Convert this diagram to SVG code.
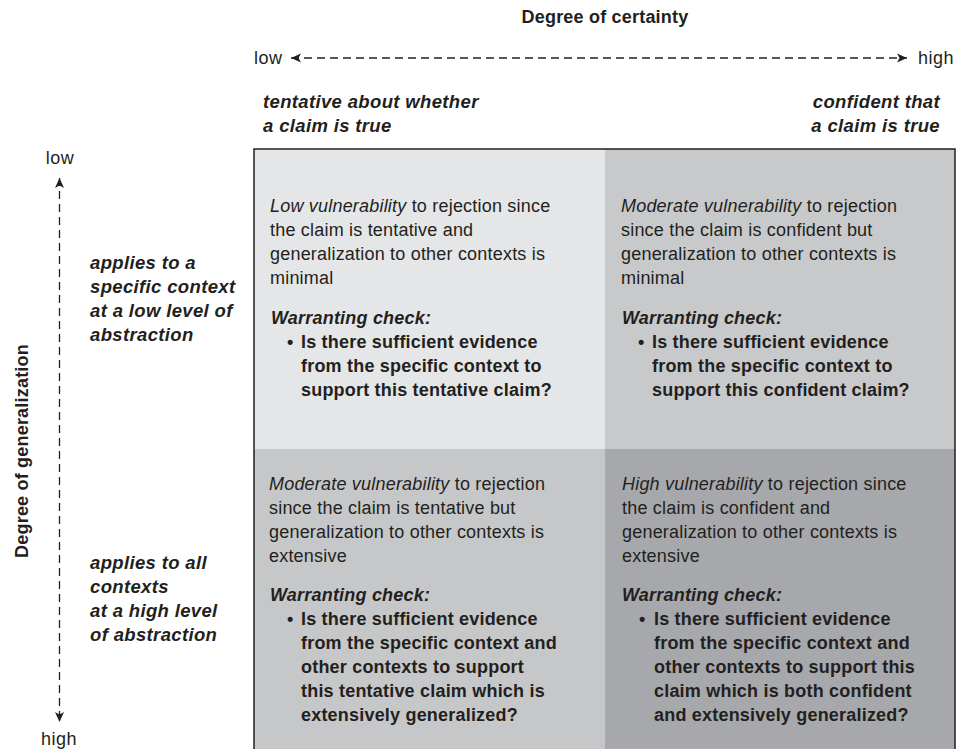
<svg xmlns="http://www.w3.org/2000/svg" width="960" height="749" viewBox="0 0 960 749">
<defs>
<style>
text{font-family:"Liberation Sans",Arial,sans-serif;fill:#231f20}
.body{font-size:18px;letter-spacing:0.2px}
.bi{font-size:18px;font-weight:bold;font-style:italic;letter-spacing:0.2px}
.b{font-size:18px;font-weight:bold;letter-spacing:0.2px}
.ax{font-size:18px;letter-spacing:0.5px}
.title{font-size:18px;font-weight:bold;letter-spacing:0.2px}
.lbl{font-size:18.5px;font-weight:bold;font-style:italic;letter-spacing:0.35px}
.dash{stroke:#231f20;stroke-width:1.3;stroke-dasharray:8,5;fill:none}
</style>
<marker id="ah" viewBox="0 0 10 10" refX="10" refY="5" markerWidth="10" markerHeight="10" markerUnits="userSpaceOnUse" orient="auto-start-reverse">
<path d="M0,0.5 L10,5 L0,9.5 L2.5,5 Z" fill="#231f20"/>
</marker>
</defs>
<rect width="960" height="749" fill="#fff"/>

<g id="axis-x">
<text class="title" x="605" y="23" text-anchor="middle">Degree of certainty</text>
<text class="ax" x="254" y="64">low</text>
<text class="ax" x="918" y="64">high</text>
<text class="lbl" x="263" y="108">tentative about whether</text>
<text class="lbl" x="263" y="132">a claim is true</text>
<text class="lbl" x="940" y="108" text-anchor="end">confident that</text>
<text class="lbl" x="940" y="132" text-anchor="end">a claim is true</text>
</g>

<g id="axis-y">
<text class="ax" x="60" y="164" text-anchor="middle">low</text>
<text class="ax" x="59" y="745" text-anchor="middle">high</text>
<text class="title" transform="translate(28,451) rotate(-90)" text-anchor="middle">Degree of generalization</text>
<text class="lbl" x="90" y="269">applies to a</text>
<text class="lbl" x="90" y="293">specific context</text>
<text class="lbl" x="90" y="317">at a low level of</text>
<text class="lbl" x="90" y="341">abstraction</text>
<text class="lbl" x="90" y="569">applies to all</text>
<text class="lbl" x="90" y="593">contexts</text>
<text class="lbl" x="90" y="617">at a high level</text>
<text class="lbl" x="90" y="641">of abstraction</text>
</g>

<g id="connectors">
<line class="dash" x1="291" y1="58" x2="907" y2="58" marker-start="url(#ah)" marker-end="url(#ah)"/>
<line class="dash" x1="59.5" y1="178" x2="59.5" y2="722" marker-start="url(#ah)" marker-end="url(#ah)"/>
</g>

<g id="q-tl">
<rect x="254" y="149" width="351" height="300" fill="#e5e6e7"/>
<text class="body" x="270" y="212"><tspan font-style="italic">Low vulnerability</tspan> to rejection since</text>
<text class="body" x="270" y="236">the claim is tentative and</text>
<text class="body" x="270" y="260">generalization to other contexts is</text>
<text class="body" x="270" y="284">minimal</text>
<text class="bi" x="271" y="324">Warranting check:</text>
<text class="b" x="287" y="348">•</text>
<text class="b" x="301" y="348">Is there sufficient evidence</text>
<text class="b" x="301" y="372">from the specific context to</text>
<text class="b" x="301" y="396">support this tentative claim?</text>
</g>

<g id="q-tr">
<rect x="605" y="149" width="350" height="300" fill="#c8c9ca"/>
<text class="body" x="621" y="212"><tspan font-style="italic">Moderate vulnerability</tspan> to rejection</text>
<text class="body" x="621" y="236">since the claim is confident but</text>
<text class="body" x="621" y="260">generalization to other contexts is</text>
<text class="body" x="621" y="284">minimal</text>
<text class="bi" x="622" y="324">Warranting check:</text>
<text class="b" x="638" y="348">•</text>
<text class="b" x="652" y="348">Is there sufficient evidence</text>
<text class="b" x="652" y="372">from the specific context to</text>
<text class="b" x="652" y="396">support this confident claim?</text>
</g>

<g id="q-bl">
<rect x="254" y="449" width="351" height="310" fill="#c6c7c8"/>
<text class="body" x="269" y="490"><tspan font-style="italic">Moderate vulnerability</tspan> to rejection</text>
<text class="body" x="269" y="514">since the claim is tentative but</text>
<text class="body" x="269" y="538">generalization to other contexts is</text>
<text class="body" x="269" y="562">extensive</text>
<text class="bi" x="270" y="601">Warranting check:</text>
<text class="b" x="287" y="625">•</text>
<text class="b" x="301" y="625">Is there sufficient evidence</text>
<text class="b" x="301" y="649">from the specific context and</text>
<text class="b" x="301" y="673">other contexts to support</text>
<text class="b" x="301" y="697">this tentative claim which is</text>
<text class="b" x="301" y="721">extensively generalized?</text>
</g>

<g id="q-br">
<rect x="605" y="449" width="350" height="310" fill="#a6a8ab"/>
<text class="body" x="622" y="490"><tspan font-style="italic">High vulnerability</tspan> to rejection since</text>
<text class="body" x="622" y="514">the claim is confident and</text>
<text class="body" x="622" y="538">generalization to other contexts is</text>
<text class="body" x="622" y="562">extensive</text>
<text class="bi" x="622" y="601">Warranting check:</text>
<text class="b" x="639" y="625">•</text>
<text class="b" x="654" y="625">Is there sufficient evidence</text>
<text class="b" x="654" y="649">from the specific context and</text>
<text class="b" x="654" y="673">other contexts to support this</text>
<text class="b" x="654" y="697">claim which is both confident</text>
<text class="b" x="654" y="721">and extensively generalized?</text>
</g>

<g id="frame">
<rect x="254" y="149" width="701" height="620" fill="none" stroke="#231f20" stroke-width="1.5"/>
</g>
</svg>
